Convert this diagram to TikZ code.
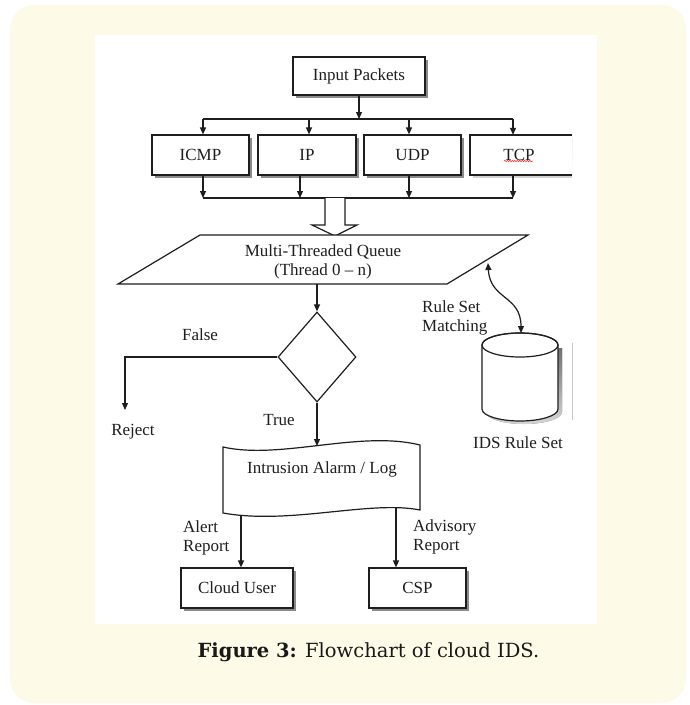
\documentclass[tikz,border=0pt]{standalone}
\usepackage{fontspec}
\setmainfont{Liberation Serif}
\newfontfamily\capfont{DejaVu Serif}
\usetikzlibrary{arrows.meta,shapes.geometric,shadows,decorations.pathmorphing}
\definecolor{cream}{RGB}{254,250,232}
\definecolor{ink}{RGB}{30,30,30}
\definecolor{shade}{RGB}{110,110,110}
\begin{document}
\begin{tikzpicture}[x=1pt,y=-1pt,
  >={Triangle[length=7pt,width=6pt]},
  conn/.style={draw=ink, line width=1.2pt},
  lbl/.style={font=\fontsize{17}{19}\selectfont, text=ink, inner sep=0pt},
  box/.style={conn, fill=white, inner sep=0pt, lbl, drop shadow={shadow xshift=3pt, shadow yshift=-3pt, fill=shade, opacity=0.8}},
]
\useasboundingbox (0,0) rectangle (689,705);
\fill[cream, rounded corners=24pt] (10,5) rectangle (686,703);
\fill[white] (95,35) rectangle (597,624);

% top box and protocol boxes
\node[box, minimum width=132pt, minimum height=38pt] (inp) at (359,76) {Input Packets};
\node[box, minimum width=97pt, minimum height=40pt] (icmp) at (200.5,155) {ICMP};
\node[box, minimum width=98pt, minimum height=40pt] (ip) at (307,155) {IP};
\node[box, minimum width=97pt, minimum height=40pt] (udp) at (412.5,155) {UDP};
% TCP box (cut off at right)
\fill[shade, opacity=0.8] (473,138) rectangle (572,178);
\fill[white] (470,135) rectangle (572,175);
\draw[conn] (572,135) -| (470,175) -- (572,175);
\node[lbl, minimum width=102pt, minimum height=40pt] (tcp) at (519,155) {TCP};
\draw[red, line width=0.5pt, decorate, decoration={snake, amplitude=0.6pt, segment length=2.5pt}] (504,161) -- (533,161);

% bus lines
\coordinate (bin) at (359,119);
\coordinate (bt1) at (203,119);
\coordinate (bt2) at (309,119);
\coordinate (bt3) at (409,119);
\coordinate (bt4) at (513,119);
\draw[conn] (bt1) -- (bt4);
\draw[conn,->] (inp) -- (bin);
\draw[conn,->] (bt1) -- (bt1 |- icmp.north);
\draw[conn,->] (bt2) -- (bt2 |- ip.north);
\draw[conn,->] (bt3) -- (bt3 |- udp.north);
\draw[conn,->] (bt4) -- (bt4 |- tcp.north);

\coordinate (bb1) at (203,198);
\coordinate (bb2) at (300,198);
\coordinate (bb3) at (409,198);
\coordinate (bb4) at (513,198);
\draw[conn] (bb1) -- (bb4);
\draw[conn,->] (bb1 |- icmp.south) -- (bb1);
\draw[conn,->] (bb2 |- ip.south) -- (bb2);
\draw[conn,->] (bb3 |- udp.south) -- (bb3);
\draw[conn,->] (bb4 |- tcp.south) -- (bb4);

% hollow block arrow
\draw[conn, fill=white] (325,198) -- (325,225) -- (312,225) -- (335,236) -- (357,225) -- (345,225) -- (345,198);

% parallelogram queue
\draw[conn, fill=white] (200,235) -- (528,235) -- (447,284) -- (118,284) -- cycle;
\node[lbl, align=center] (queue) at (323,262) {Multi-Threaded Queue\\(Thread 0 -- n)};
\coordinate (qb) at (317,284);
\coordinate (rq) at (488,263);

% decision
\node[diamond, conn, fill=white, minimum width=78pt, minimum height=90pt, inner sep=0pt] (dec) at (317,357) {};
\draw[conn,->] (qb) -- (dec.north);
\coordinate (rej) at (125,410);
\draw[conn,->] (dec.west) -| (rej);
\node[lbl] (false) at (200,335) {False};
\node[lbl] (reject) at (133,432) {Reject};
\node[lbl] (true) at (279,420) {True};

% document shape
\draw[conn, fill=white] (223,447) .. controls (280,460) and (360,430) .. (420,445) -- (420,510) .. controls (370,500) and (290,525) .. (223,513) -- cycle;
\node[lbl] (log) at (322,469) {Intrusion Alarm / Log};
\coordinate (doctop) at (317,446);
\draw[conn,->] (dec.south) -- (doctop);

% outputs
\node[box, minimum width=112pt, minimum height=40pt] (user) at (237,588) {Cloud User};
\node[box, minimum width=97pt, minimum height=40pt] (csp) at (417.5,588) {CSP};
\coordinate (a1) at (241,516);
\coordinate (a2) at (396,507.5);
\draw[conn,->] (a1) -- (a1 |- user.north);
\draw[conn,->] (a2) -- (a2 |- csp.north);
\node[lbl, align=left, anchor=west] (alert) at (183,537.5) {Alert\\Report};
\node[lbl, align=left, anchor=west] (adv) at (413,537) {Advisory\\Report};

% rule set database
\fill[shade, opacity=0.8] (486,348) -- (486,412) arc[start angle=180, end angle=360, x radius=38pt, y radius=12pt] -- (562,348) -- cycle;
\path[conn, fill=white] (482,345) -- (482,409) arc[start angle=180, end angle=360, x radius=38pt, y radius=12pt] -- (558,345) arc[start angle=0, end angle=180, x radius=38pt, y radius=12pt] -- cycle;
\draw[conn] (520,345) ellipse [x radius=38pt, y radius=12pt];
\draw[gray!45, line width=0.6pt] (572,343) -- (572,420);
\coordinate (dbtop) at (521,333);
\draw[conn,<->] (rq) .. controls (490,300) and (521,295) .. (dbtop);
\node[lbl, align=left, anchor=west] (rsm) at (422,318) {Rule Set\\Matching};
\node[lbl] (ids) at (518,443) {IDS Rule Set};

% caption
\node[font=\capfont\fontsize{19.5}{23}\selectfont, text={rgb,255:red,25;green,25;blue,25}, inner sep=0pt] (cap) at (368.5,652) {\textbf{Figure 3:} Flowchart of cloud IDS.};
\end{tikzpicture}
\end{document}
